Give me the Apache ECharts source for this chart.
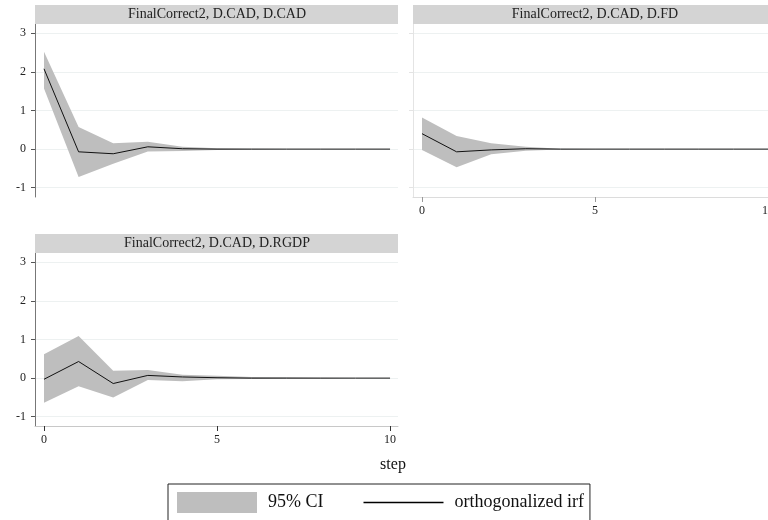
<!DOCTYPE html>
<html>
<head>
<meta charset="utf-8">
<script src="https://cdn.jsdelivr.net/npm/echarts@6/dist/echarts.min.js"></script>
<style>html,body{margin:0;padding:0;background:#fff;}#c{width:768px;height:520px;}</style>
</head>
<body>
<div id="c"></div>
<script>
var steps = [0, 1, 2, 3, 4, 5, 6, 7, 8, 9, 10];
var panelTitles = ['FinalCorrect2, D.CAD, D.CAD', 'FinalCorrect2, D.CAD, D.FD', 'FinalCorrect2, D.CAD, D.RGDP'];
var yTicks = [-1, 0, 1, 2, 3];
var xTicks = [0, 5, 10];

var cadIrf = [2.08, -0.07, -0.12, 0.06, 0.01, 0.0, 0.0, 0.0, 0.0, 0.0, 0.0];
var cadLo  = [1.57, -0.72, -0.38, -0.06, -0.05, -0.02, -0.01, 0.0, 0.0, 0.0, 0.0];
var cadHi  = [2.52, 0.57, 0.15, 0.19, 0.06, 0.02, 0.01, 0.0, 0.0, 0.0, 0.0];

var fdIrf = [0.40, -0.07, -0.02, 0.01, 0.0, 0.0, 0.0, 0.0, 0.0, 0.0, 0.0];
var fdLo  = [-0.02, -0.47, -0.13, -0.04, -0.01, 0.0, 0.0, 0.0, 0.0, 0.0, 0.0];
var fdHi  = [0.82, 0.34, 0.15, 0.06, 0.01, 0.0, 0.0, 0.0, 0.0, 0.0, 0.0];

var rgdpIrf = [-0.03, 0.43, -0.14, 0.07, 0.03, 0.01, 0.0, 0.0, 0.0, 0.0, 0.0];
var rgdpLo  = [-0.64, -0.21, -0.50, -0.05, -0.08, -0.03, -0.02, -0.01, -0.01, 0.0, 0.0];
var rgdpHi  = [0.62, 1.09, 0.19, 0.21, 0.09, 0.06, 0.03, 0.02, 0.01, 0.0, 0.0];

var panels = [
  {irf: cadIrf, lo: cadLo, hi: cadHi},
  {irf: fdIrf, lo: fdLo, hi: fdHi},
  {irf: rgdpIrf, lo: rgdpLo, hi: rgdpHi}
];

var FONT = 'Liberation Serif';
var CI_COLOR = '#bebebe';
var BAR_COLOR = '#d4d4d4';

var grids = [
  {left: 35, top: 24, width: 363, height: 173, outerBoundsMode: 'none', containLabel: false},
  {left: 413, top: 24, width: 363, height: 173, outerBoundsMode: 'none', containLabel: false},
  {left: 35, top: 253, width: 363, height: 173, outerBoundsMode: 'none', containLabel: false}
];
var xMax = [10.23, 10.23, 10.23];

function pairs(xs, ys) { return xs.map(function (x, i) { return [x, ys[i]]; }); }

function bandRender(params, api) {
  if (params.dataIndexInside !== 0) return null;
  var n = params.dataInsideLength;
  var top = [], bottom = [];
  for (var k = 0; k < n; k++) {
    top.push(api.coord([api.value(0, k), api.value(2, k)]));
    bottom.push(api.coord([api.value(0, k), api.value(1, k)]));
  }
  var pts = top.concat(bottom.reverse());
  return {
    type: 'polygon',
    shape: {points: pts},
    style: {fill: CI_COLOR, stroke: null}
  };
}

var xAxes = [], yAxes = [], series = [];
panels.forEach(function (p, i) {
  var showX = i !== 0;
  var faint = i === 1;
  xAxes.push({
    type: 'value', gridIndex: i, min: -0.26, max: xMax[i],
    show: showX,
    axisLine: {show: true, onZero: false, lineStyle: {color: faint ? '#dcdcdc' : '#c8c8c8', width: 1}},
    axisTick: {show: true, customValues: xTicks, length: 5, lineStyle: {color: faint ? '#999' : '#333'}},
    axisLabel: {show: true, customValues: xTicks, margin: 8, fontFamily: FONT, fontSize: 12, color: '#222'},
    splitLine: {show: false}
  });
  yAxes.push({
    type: 'value', gridIndex: i, min: -1.24, max: 3.24,
    axisLine: {show: true, onZero: false, lineStyle: {color: faint ? '#e4e4e4' : '#777', width: 1}},
    axisTick: {show: true, customValues: yTicks, length: 4, lineStyle: {color: faint ? '#e4e4e4' : '#555'}},
    axisLabel: {show: !faint, customValues: yTicks, margin: 9, fontFamily: FONT, fontSize: 12, color: '#222'},
    splitLine: {show: true, lineStyle: {color: '#edf1f1', width: 1}}
  });
  series.push({
    name: '95% CI', type: 'custom', xAxisIndex: i, yAxisIndex: i,
    data: steps.map(function (s, k) { return [s, p.lo[k], p.hi[k]]; }),
    encode: {x: 0, y: [1, 2]},
    renderItem: bandRender,
    itemStyle: {color: CI_COLOR},
    silent: true, z: 2
  });
  series.push({
    name: 'orthogonalized irf', type: 'line', xAxisIndex: i, yAxisIndex: i,
    data: pairs(steps, p.irf), symbol: 'none',
    itemStyle: {color: '#000'},
    lineStyle: {color: '#111', width: 1}, z: 3
  });
});

var graphics = [];
var bars = [
  {x: 35, y: 5, w: 363, h: 19},
  {x: 413, y: 5, w: 363, h: 19},
  {x: 35, y: 234, w: 363, h: 19}
];
bars.forEach(function (b, i) {
  graphics.push({type: 'rect', left: b.x, top: b.y, shape: {width: b.w, height: b.h}, style: {fill: BAR_COLOR}, z: 10});
  graphics.push({type: 'text', x: b.x + 182, y: b.y + b.h / 2, style: {text: panelTitles[i], font: '14px "Liberation Serif"', fill: '#222', align: 'center', verticalAlign: 'middle'}, z: 11});
});
graphics.push({type: 'text', x: 393, y: 465, style: {text: 'step', font: '16px "Liberation Serif"', fill: '#111', align: 'center', verticalAlign: 'middle'}, z: 11});

var option = {
  backgroundColor: '#fff',
  animation: false,
  grid: grids,
  xAxis: xAxes,
  yAxis: yAxes,
  series: series,
  graphic: graphics,
  legend: {
    left: 168, top: 484,
    padding: [8, 6, 20, 9],
    borderColor: '#222', borderWidth: 1,
    itemWidth: 80, itemHeight: 21, itemGap: 40,
    selectedMode: false,
    textStyle: {fontFamily: FONT, fontSize: 18, color: '#111', padding: [0, 0, 0, 6]},
    data: [
      {name: '95% CI', icon: 'rect', itemStyle: {color: CI_COLOR, borderWidth: 0}},
      {name: 'orthogonalized irf', icon: 'path://M0,0 L80,0 L80,1.3 L0,1.3 Z', itemStyle: {color: '#000', borderWidth: 0}}
    ]
  }
};

var chart = echarts.init(document.getElementById('c'), null, {renderer: 'canvas'});
chart.setOption(option);
</script>
</body>
</html>
